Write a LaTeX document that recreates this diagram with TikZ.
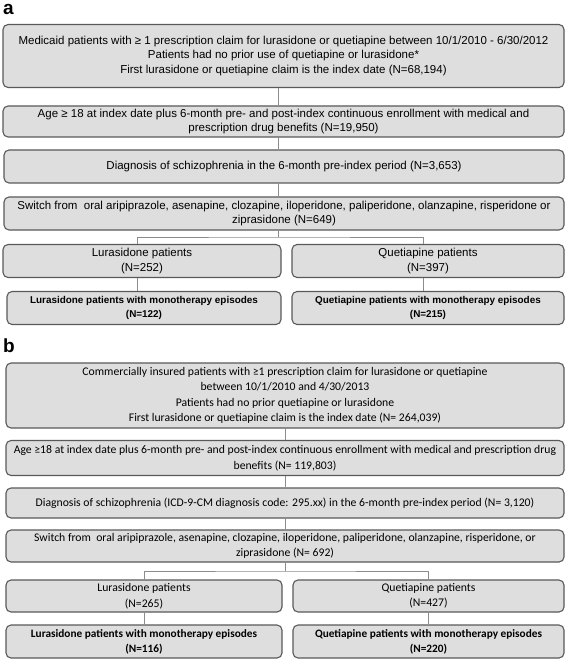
\documentclass[tikz,border=0pt]{standalone}
\usepackage{fontspec}
\setmainfont{Liberation Sans}
\newfontfamily\calibri{Carlito}
\usetikzlibrary{positioning}

\begin{document}
\begin{tikzpicture}[
  x=1pt, y=-1pt,
  box/.style={draw=black!65, line width=1.1pt, rounded corners=5pt, fill=black!13, align=center, inner sep=2pt, font=\fontsize{11.5}{14.5}\selectfont},
  boldbox/.style={box, font=\bfseries\fontsize{9.9}{14}\selectfont},
  boxb/.style={box, font=\calibri\fontsize{11.7}{15.5}\selectfont},
  boldboxb/.style={box, font=\calibri\bfseries\fontsize{11.3}{15}\selectfont},
  link/.style={draw=black!45, line width=0.8pt},
  panel/.style={anchor=north west, inner sep=0pt, font=\bfseries\fontsize{19}{19}\selectfont},
]
 \useasboundingbox (0,0) rectangle (567,660);

 % ---- panel a: Medicaid ----
 \node[panel] (lbla) at (3,4) {a};
 \node[box, minimum width=561pt, minimum height=63pt] (a1) at (283.5,56) {Medicaid patients with ≥ 1 prescription claim for lurasidone or quetiapine between 10/1/2010 - 6/30/2012\\
   Patients had no prior use of quetiapine or lurasidone*\\
   First lurasidone or quetiapine claim is the index date (N=68,194)};
 \node[box, minimum width=561pt, minimum height=31pt] (a2) at (283.5,121.5) {Age ≥ 18 at index date plus 6-month pre- and post-index continuous enrollment with medical and\\
   prescription drug benefits (N=19,950)};
 \node[box, minimum width=560pt, minimum height=33pt] (a3) at (284,166.5) {Diagnosis of schizophrenia in the 6-month pre-index period (N=3,653)};
 \node[box, minimum width=560pt, minimum height=33pt] (a4) at (284,213.5) {Switch from\ \ oral aripiprazole, asenapine, clozapine, iloperidone, paliperidone, olanzapine, risperidone or\\
   ziprasidone (N=649)};
 \node[box, minimum width=278pt, minimum height=33pt] (lura) at (142,261) {Lurasidone patients\\(N=252)};
 \node[box, minimum width=272pt, minimum height=33pt] (queta) at (428,261) {Quetiapine patients\\(N=397)};
 \node[boldbox, minimum width=274pt, minimum height=33pt] (lurma) at (144,308) {Lurasidone patients with monotherapy episodes\\(N=122)};
 \node[boldbox, minimum width=272pt, minimum height=33pt] (quema) at (428,308) {Quetiapine patients with monotherapy episodes\\(N=215)};

 \coordinate (bra) at (278.5,237);
 \draw[link] ([xshift=-5pt]a1.south) -- ([xshift=-5pt]a2.north);
 \draw[link] ([xshift=-5pt]a2.south) -- ([xshift=-5.5pt]a3.north);
 \draw[link] ([xshift=-5.5pt]a3.south) -- ([xshift=-5.5pt]a4.north);
 \draw[link] ([xshift=-5.5pt]a4.south) -- (bra);
 \draw[link] ([xshift=-5pt]lura.north) |- (bra) -| ([xshift=-5pt]queta.north);
 \draw[link] ([xshift=-5pt]lura.south) -- ([xshift=-7pt]lurma.north);
 \draw[link] ([xshift=-5pt]queta.south) -- ([xshift=-5pt]quema.north);

 % ---- panel b: commercially insured ----
 \node[panel] (lblb) at (3,339) {b};
 \node[boxb, minimum width=558pt, minimum height=65pt] (b1) at (285,395.5) {Commercially insured patients with ≥1 prescription claim for lurasidone or quetiapine\\
   between 10/1/2010 and 4/30/2013\\
   Patients had no prior quetiapine or lurasidone\\
   First lurasidone or quetiapine claim is the index date (N= 264,039)};
 \node[boxb, minimum width=558pt, minimum height=35pt] (b2) at (285,458) {Age ≥18 at index date plus 6-month pre- and post-index continuous enrollment with medical and prescription drug\\
   benefits (N= 119,803)};
 \node[boxb, minimum width=558pt, minimum height=30pt] (b3) at (285,503) {Diagnosis of schizophrenia (ICD-9-CM diagnosis code: 295.xx) in the 6-month pre-index period (N= 3,120)};
 \node[boxb, minimum width=558pt, minimum height=32pt] (b4) at (285,546) {Switch from\ \ oral aripiprazole, asenapine, clozapine, iloperidone, paliperidone, olanzapine, risperidone, or\\
   ziprasidone (N= 692)};
 \node[boxb, minimum width=276pt, minimum height=32pt] (lurb) at (144,596) {Lurasidone patients\\(N=265)};
 \node[boxb, minimum width=271pt, minimum height=32pt] (queb) at (428.5,596) {Quetiapine patients\\(N=427)};
 \node[boldboxb, minimum width=276pt, minimum height=33pt] (lurmb) at (144,641.5) {Lurasidone patients with monotherapy episodes\\(N=116)};
 \node[boldboxb, minimum width=271pt, minimum height=33pt] (quemb) at (428.5,641.5) {Quetiapine patients with monotherapy episodes\\(N=220)};

 \coordinate (brb) at (285,571);
 \draw[link] (b1) -- (b2);
 \draw[link] (b2) -- (b3);
 \draw[link] (b3) -- (b4);
 \draw[link] (b4.south) -- (brb);
 \draw[link] (lurb.north) |- (brb) -| (queb.north);
 \draw[link] (lurb) -- (lurmb);
 \draw[link] (queb) -- (quemb);

\end{tikzpicture}
\end{document}
